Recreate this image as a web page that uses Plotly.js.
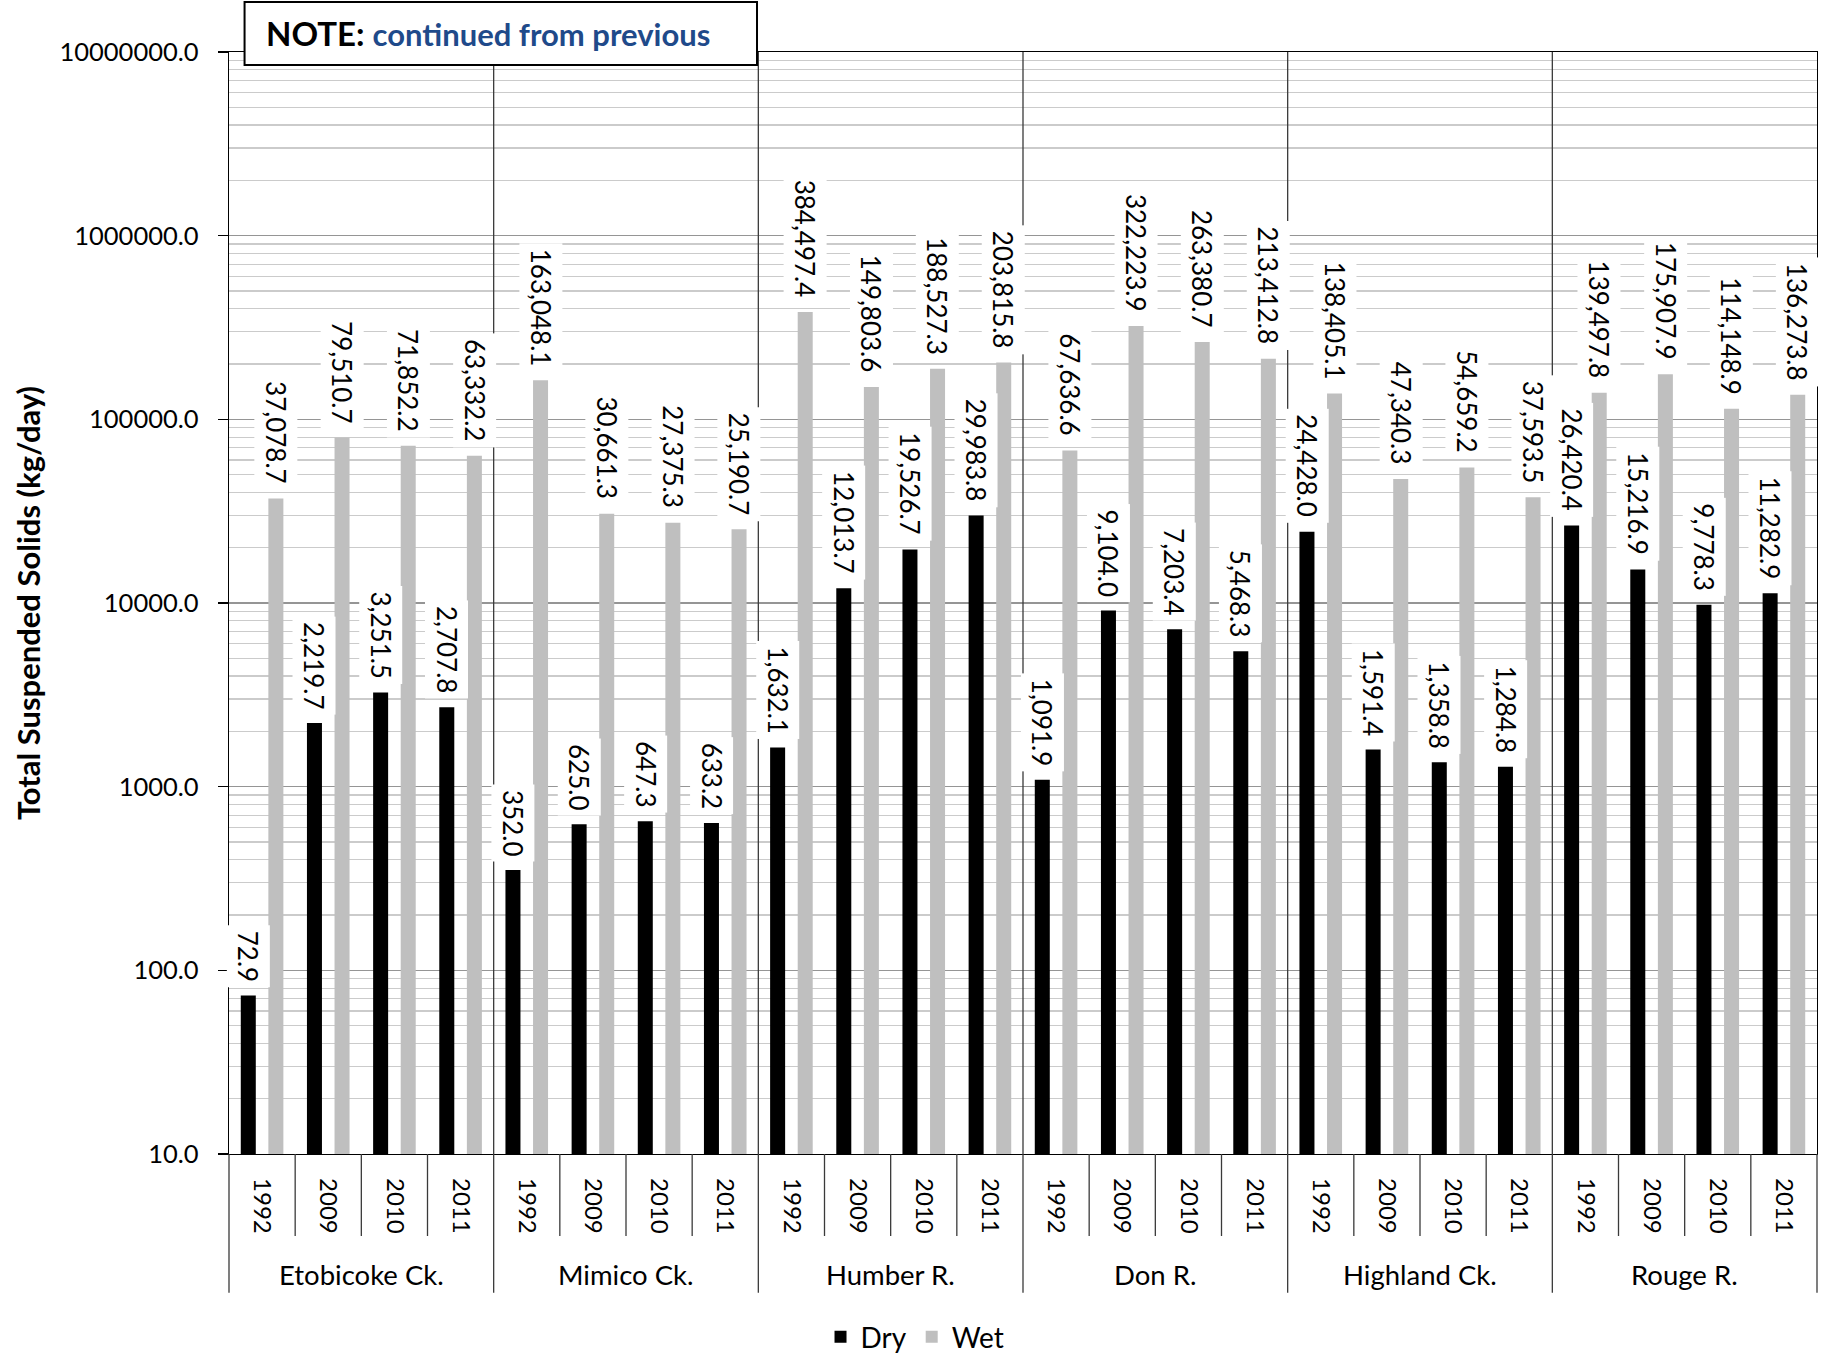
<!DOCTYPE html>
<html>
<head>
<meta charset="utf-8">
<script src="https://cdn.plot.ly/plotly-3.0.1.min.js"></script>
<style>html,body{margin:0;padding:0;background:#fff;}#chart{width:1826px;height:1361px;}</style>
</head>
<body>
<div id="chart"></div>
<script>
// ---- data ----
const rivers = ['Etobicoke Ck.', 'Mimico Ck.', 'Humber R.', 'Don R.', 'Highland Ck.', 'Rouge R.'];
const years = ['1992', '2009', '2010', '2011'];
const dry = [72.9, 2219.7, 3251.5, 2707.8,
             352.0, 625.0, 647.3, 633.2,
             1632.1, 12013.7, 19526.7, 29983.8,
             1091.9, 9104.0, 7203.4, 5468.3,
             24428.0, 1591.4, 1358.8, 1284.8,
             26420.4, 15216.9, 9778.3, 11282.9];
const wet = [37078.7, 79510.7, 71852.2, 63332.2,
             163048.1, 30661.3, 27375.3, 25190.7,
             384497.4, 149803.6, 188527.3, 203815.8,
             67636.6, 322223.9, 263380.7, 213412.8,
             138405.1, 47340.3, 54659.2, 37593.5,
             139497.8, 175907.9, 114148.9, 136273.8];
const yTickVals = [10, 100, 1000, 10000, 100000, 1000000, 10000000];
const noteLabel = 'NOTE:';
const noteText = 'continued from previous';
const yTitle = 'Total Suspended Solids (kg/day)';

// ---- build ----
const keys = [];
const yearText = [];
rivers.forEach(r => years.forEach(y => { keys.push(r + ' ' + y); yearText.push(y); }));

const FONT = 'Lato, "Open Sans", sans-serif';
const bargap = 0.166;
const off = (1 - bargap) / 4;
const fmt = v => v.toLocaleString('en-US', {minimumFractionDigits: 1, maximumFractionDigits: 1});

const traces = [
  {type: 'bar', name: 'Dry', x: keys, y: dry, marker: {color: '#000000'}, hoverinfo: 'y'},
  {type: 'bar', name: 'Wet', x: keys, y: wet, marker: {color: '#BFBFBF'}, hoverinfo: 'y'}
];

const annotations = [];
function addLabels(vals, sign) {
  vals.forEach((v, i) => {
    annotations.push({
      xref: 'x', yref: 'y', x: i + sign * off, y: Math.log10(v),
      text: fmt(v), textangle: 90, showarrow: false,
      xanchor: 'center', yanchor: 'bottom', yshift: 8,
      bgcolor: '#ffffff', borderpad: 5,
      font: {family: FONT, size: 26, color: '#000'}
    });
  });
}
addLabels(dry, -1);
addLabels(wet, 1);

rivers.forEach((r, g) => {
  annotations.push({
    xref: 'x', yref: 'paper', x: g * years.length + (years.length - 1) / 2, y: -0.1098,
    text: r, showarrow: false, xanchor: 'center', yanchor: 'middle',
    font: {family: FONT, size: 27.5, color: '#000'}
  });
});

annotations.push({
  xref: 'paper', yref: 'paper', x: 0.022, y: 1.0173, xanchor: 'left', yanchor: 'middle',
  showarrow: false,
  text: '<b><span style="font-size:33px">' + noteLabel + '</span></b> <span style="color:#1F4A8A"><b>' + noteText + '</b></span>',
  font: {family: FONT, size: 31, color: '#000'}
});

const shapes = [];
const lineCol = '#3a3a3a';
for (let i = 0; i <= keys.length; i++) {
  const xb = i - 0.5;
  const isGroup = (i % years.length === 0);
  if (i === 0 || i === keys.length) {
    shapes.push({type: 'line', xref: 'paper', yref: 'paper', x0: i === 0 ? 0 : 1, x1: i === 0 ? 0 : 1,
      y0: -0.126, y1: 0, line: {color: lineCol, width: 1.3}});
  } else if (isGroup) {
    shapes.push({type: 'line', xref: 'x', yref: 'paper', x0: xb, x1: xb, y0: -0.126, y1: 1,
      line: {color: lineCol, width: 1.3}});
  } else {
    shapes.push({type: 'line', xref: 'x', yref: 'paper', x0: xb, x1: xb, y0: -0.0744, y1: 0,
      line: {color: lineCol, width: 1.3}});
  }
}
// note box
shapes.push({type: 'rect', xref: 'paper', yref: 'paper', x0: 0.0098, x1: 0.3325, y0: 0.9882, y1: 1.0454,
  line: {color: '#000', width: 2}, fillcolor: '#ffffff', layer: 'above'});

const layout = {
  width: 1826, height: 1361,
  margin: {l: 229, r: 9, t: 52, b: 207, pad: 0, autoexpand: false},
  paper_bgcolor: '#ffffff', plot_bgcolor: '#ffffff',
  font: {family: FONT, size: 24, color: '#000'},
  barmode: 'group', bargap: bargap, bargroupgap: 0.456,
  showlegend: true,
  legend: {orientation: 'h', x: 0.432, xanchor: 'center', y: -0.166, yanchor: 'middle',
    font: {family: FONT, size: 28, color: '#000'}, bgcolor: 'rgba(0,0,0,0)'},
  xaxis: {
    type: 'category', categoryorder: 'array', categoryarray: keys,
    range: [-0.5, keys.length - 0.5],
    tickmode: 'array', tickvals: keys, ticktext: yearText, tickangle: 90,
    ticks: '', ticklabelstandoff: 18,
    showline: true, linecolor: '#000', linewidth: 1.3, mirror: true,
    showgrid: false, zeroline: false,
    tickfont: {family: FONT, size: 24, color: '#000'}
  },
  yaxis: {
    type: 'log', range: [1, 7],
    tickmode: 'array', tickvals: yTickVals, tickformat: '.1f',
    ticks: 'outside', ticklen: 10, tickwidth: 1.3, tickcolor: '#000',
    ticklabelstandoff: 14,
    showline: true, linecolor: '#000', linewidth: 1.3, mirror: true,
    showgrid: true, gridcolor: '#959595', gridwidth: 1.5,
    minor: {dtick: 'D1', showgrid: true, gridcolor: '#CBCBCB', gridwidth: 1.2, ticks: ''},
    zeroline: false,
    tickfont: {family: FONT, size: 25.5, color: '#000'},
    title: {text: '<b>' + yTitle + '</b>', font: {family: FONT, size: 31, color: '#000'}, standoff: 9}
  },
  annotations: annotations,
  shapes: shapes
};

Plotly.newPlot('chart', traces, layout, {displayModeBar: false, staticPlot: true});
</script>
</body>
</html>
